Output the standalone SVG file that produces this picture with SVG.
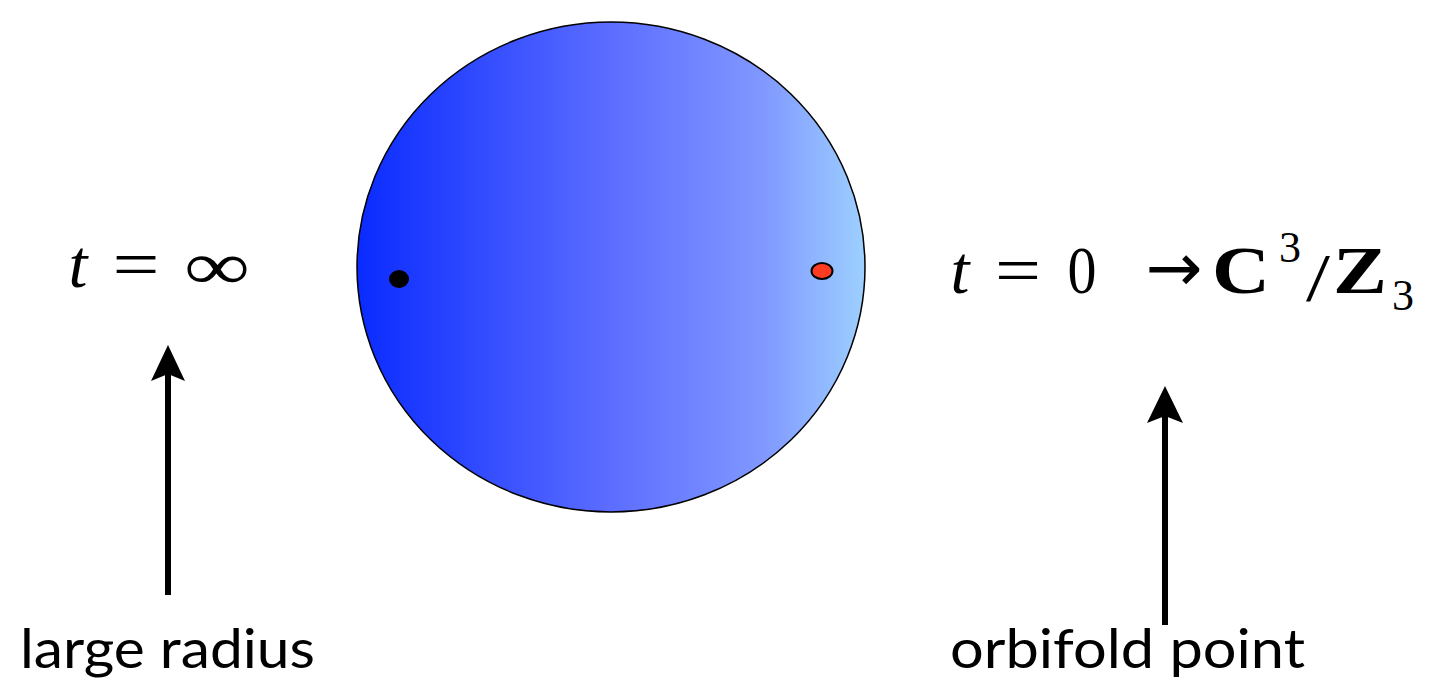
<svg xmlns="http://www.w3.org/2000/svg" width="1430" height="684" viewBox="0 0 1430 684">
<style>
.m{font-family:"Liberation Serif","DejaVu Serif",serif;font-size:68px;fill:#000;text-anchor:middle}
.it{font-style:italic}
.bf{font-weight:bold}
.sm{font-size:44px}
.arr{font-family:"DejaVu Sans",sans-serif;font-size:68px;fill:#000;text-anchor:middle}
.lbl{font-family:Lato,"Open Sans",sans-serif;font-size:54px;fill:#000}
.shaft{stroke:#000;stroke-width:6;fill:none}
.head{fill:#000}
</style>
<defs>
<linearGradient id="g" x1="0" y1="0" x2="1" y2="0">
<stop offset="0" stop-color="#0a2bff"/>
<stop offset="0.5" stop-color="#5c6dff"/>
<stop offset="0.8" stop-color="#8098ff"/>
<stop offset="1" stop-color="#9dd0ff"/>
</linearGradient>
</defs>
<g id="disk">
<ellipse cx="611" cy="267" rx="254" ry="245" fill="url(#g)" stroke="#000" stroke-width="1.5"/>
</g>
<g id="dot-black">
<ellipse cx="399" cy="279" rx="10" ry="9" fill="#000"/>
</g>
<g id="dot-red">
<ellipse cx="822" cy="271" rx="10.5" ry="8" fill="#ff3c22" stroke="#000" stroke-width="2"/>
</g>
<g id="label-t-inf">
<text class="m it" x="78" y="287">t</text>
<text class="m" x="136" y="287" textLength="47" lengthAdjust="spacingAndGlyphs">=</text>
<text class="m" x="217" y="289" font-size="84" textLength="66" lengthAdjust="spacingAndGlyphs">∞</text>
</g>
<g id="label-t-0">
<text class="m it" x="960" y="293">t</text>
<text class="m" x="1018" y="293" textLength="46" lengthAdjust="spacingAndGlyphs">=</text>
<text class="m" x="1082" y="293" textLength="29" lengthAdjust="spacingAndGlyphs">0</text>
<text class="arr" x="1174" y="291">→</text>
<text class="m bf" x="1241" y="293" textLength="58" lengthAdjust="spacingAndGlyphs">C</text>
<text class="m sm" x="1290" y="262" textLength="22" lengthAdjust="spacingAndGlyphs">3</text>
<text class="m" x="1318" y="300" font-size="80" textLength="24" lengthAdjust="spacingAndGlyphs">/</text>
<text class="m bf" x="1360" y="293" textLength="54" lengthAdjust="spacingAndGlyphs">Z</text>
<text class="m sm" x="1403" y="310" textLength="22" lengthAdjust="spacingAndGlyphs">3</text>
</g>
<g id="connectors">
<line class="shaft" x1="168" y1="595" x2="168" y2="370"/>
<path class="head" d="M168 345 L185 381 L168 374 L151 381 Z"/>
<line class="shaft" x1="1165" y1="625" x2="1165" y2="410"/>
<path class="head" d="M1165 386 L1183 423 L1165 416 L1147 423 Z"/>
</g>
<g id="label-large-radius">
<text class="lbl" x="20" y="668" textLength="295" lengthAdjust="spacingAndGlyphs">large radius</text>
</g>
<g id="label-orbifold">
<text class="lbl" x="950" y="668" textLength="355" lengthAdjust="spacingAndGlyphs">orbifold point</text>
</g>
</svg>
